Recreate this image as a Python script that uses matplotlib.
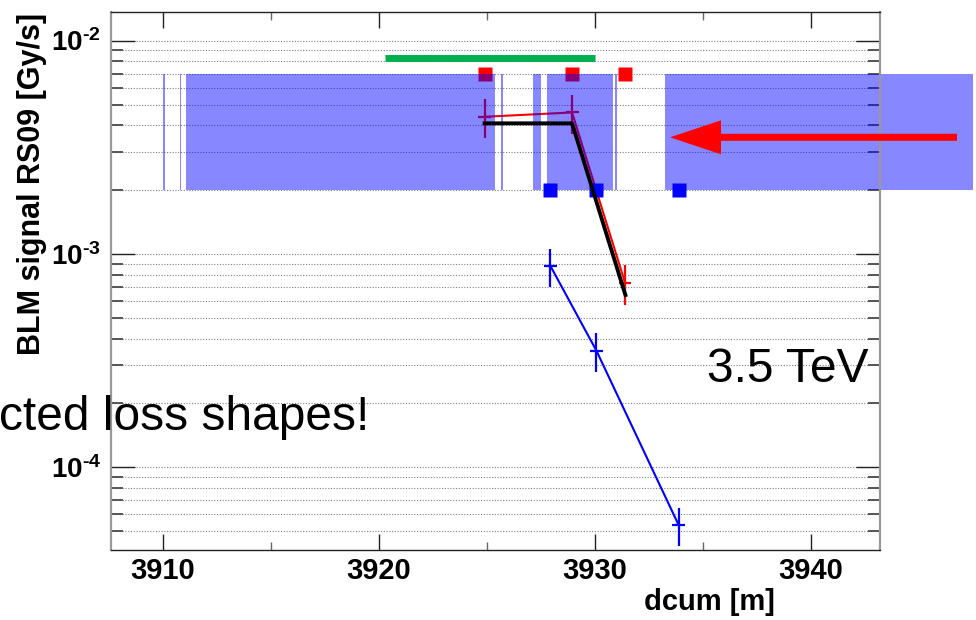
import matplotlib
matplotlib.use("Agg")
import matplotlib.pyplot as plt
from matplotlib.ticker import MultipleLocator, LogLocator, NullFormatter, FixedLocator
from matplotlib.patches import FancyArrow

plt.rcParams['font.family'] = ['Liberation Sans', 'DejaVu Sans']
plt.rcParams['mathtext.fontset'] = 'custom'
plt.rcParams['mathtext.rm'] = 'Liberation Sans:bold'
plt.rcParams['mathtext.it'] = 'Liberation Sans:bold'
plt.rcParams['mathtext.bf'] = 'Liberation Sans:bold'

# ---- data ----
band_left = [3910.0, 3910.79, 3911.1, 3925.67, 3927.15, 3927.77, 3930.96, 3933.24]
band_right = [3910.1, 3910.85, 3925.4, 3925.75, 3927.49, 3930.85, 3931.02, 3947.5]
band_low = 2.0e-3
band_high = 7.0e-3

green_x = [3920.3, 3930.0]
green_y = [8.3e-3, 8.3e-3]

red_sq_x = [3924.9, 3928.95, 3931.4]
red_sq_y = [7.0e-3, 7.0e-3, 7.0e-3]
blue_sq_x = [3927.95, 3930.08, 3933.88]
blue_sq_y = [2.0e-3, 2.0e-3, 2.0e-3]

red_x = [3924.9, 3928.95, 3931.4]
red_y = [4.39e-3, 4.6e-3, 7.33e-4]
red_err = [0.91e-3, 0.96e-3, 1.55e-4]

black_x = [3924.9, 3928.95, 3931.42]
black_y = [4.09e-3, 4.09e-3, 6.41e-4]

blue_x = [3927.95, 3930.08, 3933.88]
blue_y = [8.77e-4, 3.51e-4, 5.36e-5]
blue_err = [0.18e-3, 0.73e-4, 1.1e-5]

xerr_half = 0.3

xticks = [3910, 3920, 3930, 3940]
xticklabels = ['3910', '3920', '3930', '3940']
yticks = [1e-4, 1e-3, 1e-2]
yticklabels = [r'$10^{\text{-}4}$', r'$10^{\text{-}3}$', r'$10^{\text{-}2}$']

# ---- figure ----
W, H = 976, 620
fig = plt.figure(figsize=(W / 100, H / 100), dpi=100)
ax = fig.add_axes([110.7 / W, 1 - 550 / H, (880 - 110.7) / W, (550 - 12.3) / H])
ax.set_yscale('log')
ax.set_xlim(3907.6, 3943.2)
ax.set_ylim(4.09e-5, 1.356e-2)

# grid
ax.set_axisbelow(True)
ax.yaxis.grid(True, which='both', color='#808080', lw=0.8, linestyle=(0, (1, 1.5)))
ax.xaxis.grid(False)

# red items (under band)
ax.plot(red_sq_x, red_sq_y, 's', color='#ff0000', ms=9.5, mec='none', zorder=1.5)
ax.errorbar(red_x, red_y, yerr=red_err, xerr=xerr_half, color='#ff0000', lw=1.5,
            elinewidth=1.6, capsize=0, zorder=1.6)

# blue hatched bands
widths = [r - l for l, r in zip(band_left, band_right)]
bars = ax.bar(band_left, [band_high - band_low] * len(band_left), width=widths,
              bottom=band_low, align='edge', color='#0000ff', alpha=0.47,
              linewidth=0, zorder=3)
bars[-1].set_clip_on(False)

# blue curve
ax.errorbar(blue_x, blue_y, yerr=blue_err, xerr=xerr_half, color='#0000ff', lw=1.5,
            elinewidth=1.6, capsize=0, zorder=3.5)
ax.plot(blue_sq_x, blue_sq_y, 's', color='#0000ff', ms=9.5, mec='none', zorder=4)

# black line
ax.plot(black_x, black_y, '-', color='black', lw=2.8, zorder=4.2)

# green bar
ax.plot(green_x, green_y, '-', color='#00b04f', lw=5, solid_capstyle='butt', zorder=4)

# ticks
ax.set_xticks(xticks)
ax.set_xticklabels(xticklabels)
ax.xaxis.set_minor_locator(MultipleLocator(5))
ax.yaxis.set_major_locator(FixedLocator(yticks))
ax.set_yticklabels(yticklabels)
ax.yaxis.set_minor_locator(LogLocator(base=10, subs=[2, 3, 4, 5, 6, 7, 8, 9]))
ax.yaxis.set_minor_formatter(NullFormatter())

ax.tick_params(axis='x', which='major', direction='in', length=11.5, width=1.0,
               color='#222222', top=True, bottom=True, labelsize=21, pad=5)
ax.tick_params(axis='x', which='minor', direction='in', length=5.8, width=1.0,
               color='#666666', top=True, bottom=True)
ax.tick_params(axis='y', which='major', direction='in', length=17, width=1.0,
               color='#222222', left=True, right=True, labelsize=20, pad=7)
ax.tick_params(axis='y', which='minor', direction='in', length=8.5, width=1.4,
               color='#555555', left=True, right=True)
for lbl in ax.get_xticklabels():
    lbl.set_fontweight('bold')

for s in ['left', 'right']:
    ax.spines[s].set_color('#999999')
    ax.spines[s].set_linewidth(1.6)
for s in ['top', 'bottom']:
    ax.spines[s].set_color('#222222')
    ax.spines[s].set_linewidth(1.0)
for s in ax.spines.values():
    s.set_zorder(5)

# axis titles
fig.text(32 / W, 1 - 13 / H, 'BLM signal RS09 [Gy/s]', rotation=90, ha='center',
         va='top', fontsize=22, fontweight='bold')
fig.text(775 / W, 1 - 602 / H, 'dcum [m]', ha='right', va='center',
         fontsize=21, fontweight='bold')

# annotations
fig.text(707 / W, 1 - 381.7 / H, '3.5 TeV', ha='left', va='baseline', fontsize=34.5)
fig.text(-1 / W, 1 - 430 / H, 'cted loss shapes!', ha='left', va='baseline', fontsize=34.5)

arrow = FancyArrow(957 / W, 1 - 137.3 / H, -(957 - 670) / W, 0,
                   width=7 / H, head_width=34 / H, head_length=51 / W,
                   length_includes_head=True, color='#ff0000', lw=0,
                   transform=fig.transFigure, zorder=10)
fig.add_artist(arrow)

fig.savefig('out.png', dpi=100)
